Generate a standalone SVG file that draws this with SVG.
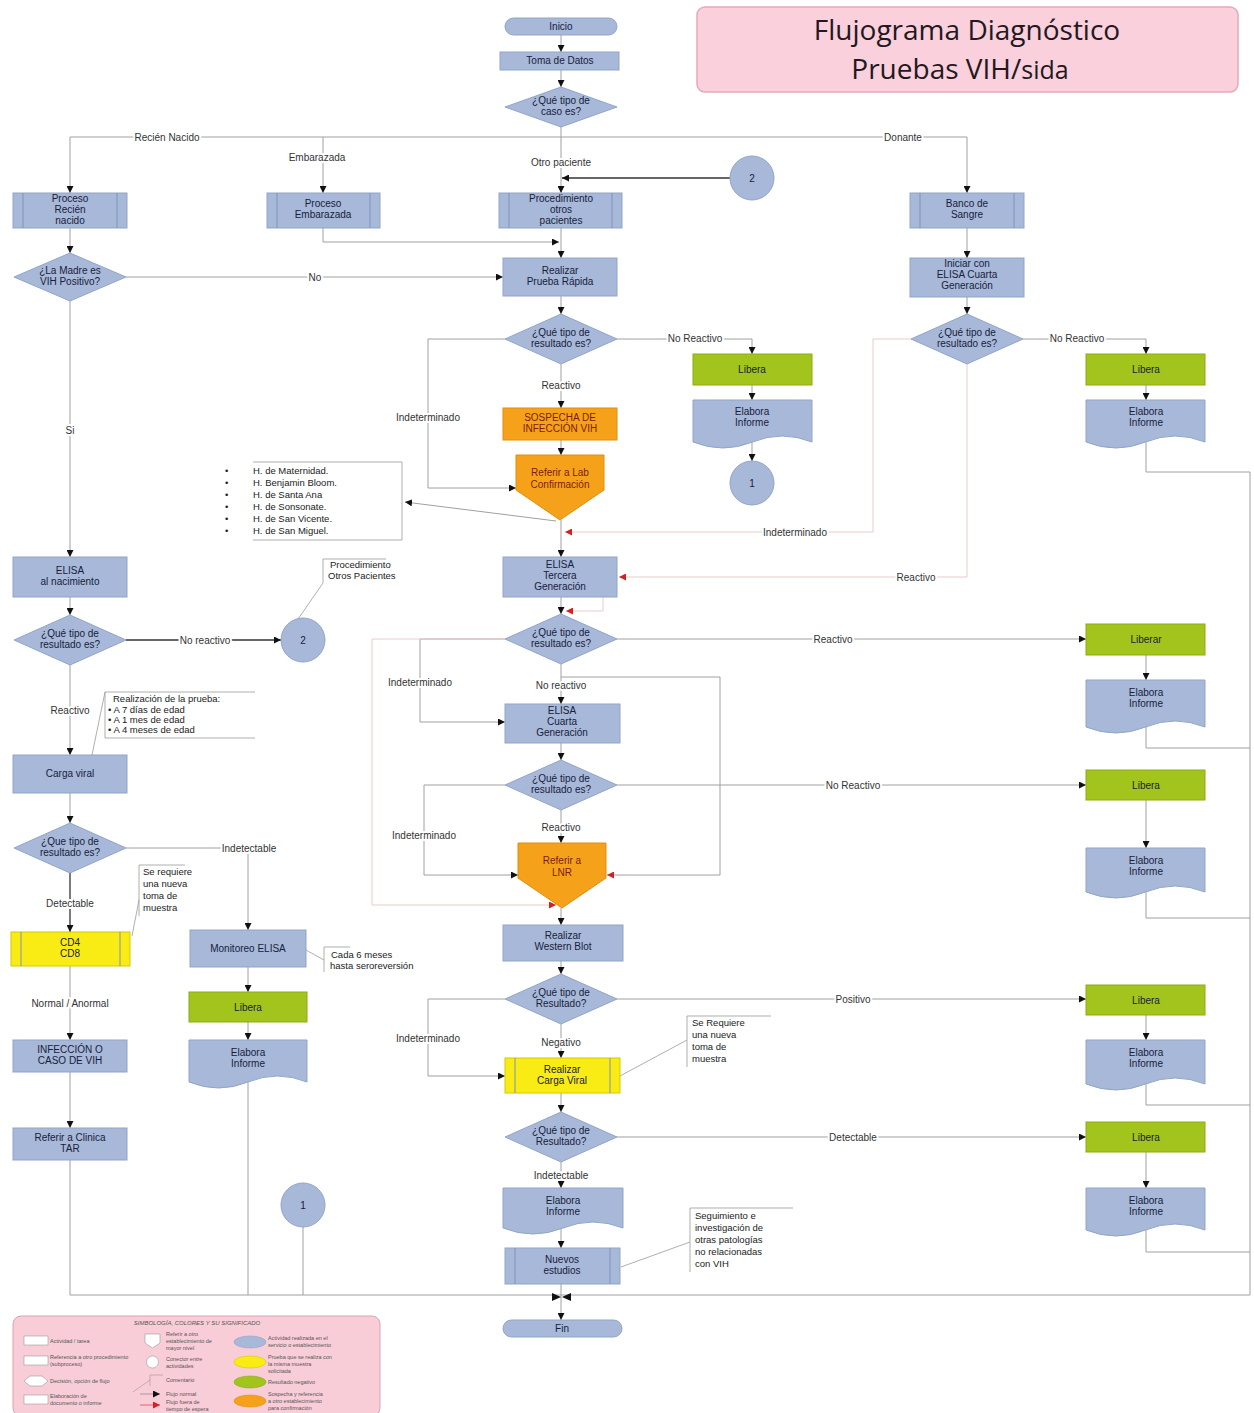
<svg xmlns="http://www.w3.org/2000/svg" width="1254" height="1413" viewBox="0 0 1254 1413">
<style>
text{font-family:"Liberation Sans",Arial,sans-serif}
.n{fill:#a7b8d8;stroke:#91a5c9;stroke-width:1}
.g{fill:#a3c41c;stroke:#8eab10;stroke-width:1}
.o{fill:#f6a11a;stroke:#e08e0e;stroke-width:1}
.y{fill:#f9ec14;stroke:#d8c800;stroke-width:1}
.il{stroke:#7f93b8;stroke-width:1}
.t{font-size:10px;fill:#17213d;text-anchor:middle}
.to{font-size:10px;fill:#7a2200;text-anchor:middle}
.lb{font-size:10px;fill:#333;text-anchor:middle;stroke:#fff;stroke-width:4px;paint-order:stroke;stroke-linejoin:round}
.an{font-size:9.5px;fill:#222}
.c{fill:none;stroke:#a0a0a0;stroke-width:1}
.ck{fill:none;stroke:#333;stroke-width:1.3}
.cr{fill:none;stroke:#ebcaca;stroke-width:1}
.br{fill:none;stroke:#9a9a9a;stroke-width:0.8}
.lg{font-size:5.5px;fill:#555}
.tt{font-family:"Open Sans","Liberation Sans",sans-serif;fill:#231820;text-anchor:middle}
</style>
<defs>
<marker id="a" viewBox="0 0 10 10" refX="10" refY="5" markerWidth="7" markerHeight="7" markerUnits="userSpaceOnUse" orient="auto"><path d="M0,0 L10,5 L0,10 z" fill="#111"/></marker>
<marker id="r" viewBox="0 0 10 10" refX="10" refY="5" markerWidth="7" markerHeight="7" markerUnits="userSpaceOnUse" orient="auto"><path d="M0,0 L10,5 L0,10 z" fill="#d42020"/></marker>
</defs>
<rect width="1254" height="1413" fill="#fff"/>

<g id="title">
<rect x="697" y="7" width="541" height="85" rx="8" fill="#f9d0dc" stroke="#e4a9bb" stroke-width="1.5"/>
<text class="tt" x="967" y="40" font-size="28">Flujograma Diagnóstico</text>
<text class="tt" x="960" y="79" font-size="28">Pruebas VIH/<tspan font-size="25">sida</tspan></text>
</g>

<g id="connectors">
<path class="c" d="M561,35 V52" marker-end="url(#a)"/>
<path class="c" d="M561,70 V87" marker-end="url(#a)"/>
<path class="c" d="M561,127 V137 M70,137 H967"/>
<path class="c" d="M70,137 V193" marker-end="url(#a)"/>
<path class="c" d="M323,137 V193" marker-end="url(#a)"/>
<path class="c" d="M561,137 V193" marker-end="url(#a)"/>
<path class="c" d="M967,137 V193" marker-end="url(#a)"/>
<path class="ck" d="M730,178 H562" marker-end="url(#a)"/>
<path class="c" d="M323,228 V242 H559" marker-end="url(#a)"/>
<path class="c" d="M561,228 V258" marker-end="url(#a)"/>
<path class="c" d="M70,228 V253" marker-end="url(#a)"/>
<path class="c" d="M126,277 H503" marker-end="url(#a)"/>
<path class="c" d="M70,301 V557" marker-end="url(#a)"/>
<path class="c" d="M967,228 V258" marker-end="url(#a)"/>
<path class="c" d="M967,297 V314" marker-end="url(#a)"/>
<path class="c" d="M561,296 V314" marker-end="url(#a)"/>
<path class="c" d="M617,339 H752 V354" marker-end="url(#a)"/>
<path class="c" d="M752,385 V400" marker-end="url(#a)"/>
<path class="c" d="M752,442 V461" marker-end="url(#a)"/>
<path class="c" d="M561,364 V408" marker-end="url(#a)"/>
<path class="c" d="M561,440 V455" marker-end="url(#a)"/>
<path class="c" d="M505,339 H428 V488 H516" marker-end="url(#a)"/>
<path class="c" d="M561,520 V557" marker-end="url(#a)"/>
<path class="c" d="M556,521 L405,502" marker-end="url(#a)"/>
<path class="cr" d="M911,339 H873 V532 H565" marker-end="url(#r)"/>
<path class="cr" d="M967,364 V577 H619" marker-end="url(#r)"/>
<path class="c" d="M1023,339 H1146 V354" marker-end="url(#a)"/>
<path class="c" d="M1146,385 V400" marker-end="url(#a)"/>
<path class="c" d="M1146,442 V472 H1250 V1295"/>
<path class="c" d="M561,597 V614" marker-end="url(#a)"/>
<path class="cr" d="M603,597 V611 H566" marker-end="url(#r)"/>
<path class="c" d="M617,639 H1086" marker-end="url(#a)"/>
<path class="c" d="M1146,655 V680" marker-end="url(#a)"/>
<path class="c" d="M1146,727 V748 H1250"/>
<path class="c" d="M505,639 H420 V722 H505" marker-end="url(#a)"/>
<path class="cr" d="M505,639 H372 V905 H556" marker-end="url(#r)"/>
<path class="c" d="M561,664 V704" marker-end="url(#a)"/>
<path class="c" d="M561,677 H720 V875 H607" marker-end="url(#r)"/>
<path class="c" d="M561,743 V760" marker-end="url(#a)"/>
<path class="c" d="M617,785 H1086" marker-end="url(#a)"/>
<path class="c" d="M1146,800 V848" marker-end="url(#a)"/>
<path class="c" d="M1146,892 V918 H1250"/>
<path class="c" d="M561,810 V843" marker-end="url(#a)"/>
<path class="c" d="M505,785 H424 V875 H518" marker-end="url(#a)"/>
<path class="c" d="M561,908 V925" marker-end="url(#a)"/>
<path class="c" d="M561,961 V974" marker-end="url(#a)"/>
<path class="c" d="M617,999 H1086" marker-end="url(#a)"/>
<path class="c" d="M1146,1015 V1040" marker-end="url(#a)"/>
<path class="c" d="M1146,1084 V1105 H1250"/>
<path class="c" d="M505,999 H428 V1076 H505" marker-end="url(#a)"/>
<path class="c" d="M561,1024 V1058" marker-end="url(#a)"/>
<path class="c" d="M561,1093 V1112" marker-end="url(#a)"/>
<path class="c" d="M617,1137 H1086" marker-end="url(#a)"/>
<path class="c" d="M1146,1152 V1188" marker-end="url(#a)"/>
<path class="c" d="M1146,1230 V1252 H1250"/>
<path class="c" d="M561,1162 V1188" marker-end="url(#a)"/>
<path class="c" d="M561,1228 V1248" marker-end="url(#a)"/>
<path class="c" d="M561,1284 V1320" marker-end="url(#a)"/>
<path class="c" d="M70,1295 H1250"/>
<path d="M552,1293 L561,1297 L552,1301 Z M571,1293 L562,1297 L571,1301 Z" fill="#111"/>
<path class="c" d="M70,597 V615" marker-end="url(#a)"/>
<path class="ck" d="M126,640 H281" marker-end="url(#a)"/>
<path class="c" d="M70,665 V755" marker-end="url(#a)"/>
<path class="c" d="M70,793 V823" marker-end="url(#a)"/>
<path class="c" d="M126,848 H248 V930" marker-end="url(#a)"/>
<path class="ck" d="M70,873 V932" marker-end="url(#a)"/>
<path class="c" d="M70,966 V1040" marker-end="url(#a)"/>
<path class="c" d="M70,1072 V1128" marker-end="url(#a)"/>
<path class="c" d="M70,1160 V1295"/>
<path class="c" d="M248,967 V992" marker-end="url(#a)"/>
<path class="c" d="M248,1022 V1040" marker-end="url(#a)"/>
<path class="c" d="M248,1082 V1295"/>
<path class="c" d="M303,1227 V1295"/>
<text class="lb" x="167" y="141">Recién Nacido</text>
<text class="lb" x="317" y="161">Embarazada</text>
<text class="lb" x="561" y="166">Otro paciente</text>
<text class="lb" x="903" y="141">Donante</text>
<text class="lb" x="315" y="281">No</text>
<text class="lb" x="70" y="434">Si</text>
<text class="lb" x="695" y="342">No Reactivo</text>
<text class="lb" x="561" y="389">Reactivo</text>
<text class="lb" x="428" y="421">Indeterminado</text>
<text class="lb" x="795" y="536">Indeterminado</text>
<text class="lb" x="916" y="581">Reactivo</text>
<text class="lb" x="1077" y="342">No Reactivo</text>
<text class="lb" x="833" y="643">Reactivo</text>
<text class="lb" x="420" y="686">Indeterminado</text>
<text class="lb" x="561" y="689">No reactivo</text>
<text class="lb" x="853" y="789">No Reactivo</text>
<text class="lb" x="561" y="831">Reactivo</text>
<text class="lb" x="424" y="839">Indeterminado</text>
<text class="lb" x="853" y="1003">Positivo</text>
<text class="lb" x="428" y="1042">Indeterminado</text>
<text class="lb" x="561" y="1046">Negativo</text>
<text class="lb" x="853" y="1141">Detectable</text>
<text class="lb" x="561" y="1179">Indetectable</text>
<text class="lb" x="205" y="644">No reactivo</text>
<text class="lb" x="70" y="714">Reactivo</text>
<text class="lb" x="249" y="852">Indetectable</text>
<text class="lb" x="70" y="907">Detectable</text>
<text class="lb" x="70" y="1007">Normal / Anormal</text>
</g>

<g id="inicio"><rect class="n" x="505" y="18" width="112" height="17" rx="8.5"/><text class="t" x="561" y="30">Inicio</text></g>
<g id="toma-datos"><rect class="n" x="500" y="52" width="119" height="18"/><text class="t" x="560" y="64">Toma de Datos</text></g>
<g id="d-caso"><polygon class="n" points="561,87 617,107 561,127 505,107"/><text class="t" x="561" y="104">¿Qué tipo de</text><text class="t" x="561" y="115">caso es?</text></g>
<g id="proc-rn"><rect class="n" x="13" y="193" width="114" height="35"/><path class="il" d="M23,193 V228 M117,193 V228"/><text class="t" x="70" y="202">Proceso</text><text class="t" x="70" y="213">Recién</text><text class="t" x="70" y="224">nacido</text></g>
<g id="proc-emb"><rect class="n" x="267" y="193" width="113" height="35"/><path class="il" d="M277,193 V228 M370,193 V228"/><text class="t" x="323" y="207">Proceso</text><text class="t" x="323" y="218">Embarazada</text></g>
<g id="proc-otros"><rect class="n" x="499" y="193" width="123" height="35"/><path class="il" d="M509,193 V228 M612,193 V228"/><text class="t" x="561" y="202">Procedimiento</text><text class="t" x="561" y="213">otros</text><text class="t" x="561" y="224">pacientes</text></g>
<g id="banco"><rect class="n" x="910" y="193" width="114" height="35"/><path class="il" d="M920,193 V228 M1014,193 V228"/><text class="t" x="967" y="207">Banco de</text><text class="t" x="967" y="218">Sangre</text></g>
<g id="con2a"><circle class="n" cx="752" cy="178" r="22"/><text class="t" x="752" y="182">2</text></g>
<g id="d-madre"><polygon class="n" points="70,253 126,277 70,301 14,277"/><text class="t" x="70" y="274">¿La Madre es</text><text class="t" x="70" y="285">VIH Positivo?</text></g>
<g id="prueba-rapida"><rect class="n" x="503" y="258" width="114" height="38"/><text class="t" x="560" y="274">Realizar</text><text class="t" x="560" y="285">Prueba Rápida</text></g>
<g id="iniciar-elisa"><rect class="n" x="910" y="258" width="114" height="39"/><text class="t" x="967" y="267">Iniciar con</text><text class="t" x="967" y="278">ELISA Cuarta</text><text class="t" x="967" y="289">Generación</text></g>
<g id="d-rapida"><polygon class="n" points="561,314 617,339 561,364 505,339"/><text class="t" x="561" y="336">¿Qué tipo de</text><text class="t" x="561" y="347">resultado es?</text></g>
<g id="d-banco"><polygon class="n" points="967,314 1023,339 967,364 911,339"/><text class="t" x="967" y="336">¿Qué tipo de</text><text class="t" x="967" y="347">resultado es?</text></g>
<g id="libera1"><rect class="g" x="693" y="354" width="119" height="31"/><text class="t" x="752" y="373">Libera</text></g>
<g id="informe1"><path class="n" d="M693,400 H812 V442 Q782,430 752.5,442 T693,442 Z"/><text class="t" x="752" y="415">Elabora</text><text class="t" x="752" y="426">Informe</text></g>
<g id="con1a"><circle class="n" cx="752" cy="483" r="22"/><text class="t" x="752" y="487">1</text></g>
<g id="libera2"><rect class="g" x="1086" y="354" width="119" height="31"/><text class="t" x="1146" y="373">Libera</text></g>
<g id="informe2"><path class="n" d="M1086,400 H1205 V442 Q1175,430 1145.5,442 T1086,442 Z"/><text class="t" x="1146" y="415">Elabora</text><text class="t" x="1146" y="426">Informe</text></g>
<g id="sospecha"><rect class="o" x="503" y="408" width="114" height="32"/><text class="to" x="560" y="421">SOSPECHA DE</text><text class="to" x="560" y="432">INFECCIÓN VIH</text></g>
<g id="referir-lab"><path class="o" d="M516,455 H604 V490 L560,520 L516,490 Z"/><text class="to" x="560" y="476">Referir a  Lab</text><text class="to" x="560" y="488">Confirmación</text></g>
<g id="hospitales">
<path class="br" d="M253,462 H402 V540 H253"/>
<text class="an" x="225" y="474">•</text><text class="an" x="253" y="474">H. de Maternidad.</text>
<text class="an" x="225" y="486">•</text><text class="an" x="253" y="486">H. Benjamin Bloom.</text>
<text class="an" x="225" y="498">•</text><text class="an" x="253" y="498">H. de Santa Ana</text>
<text class="an" x="225" y="510">•</text><text class="an" x="253" y="510">H. de Sonsonate.</text>
<text class="an" x="225" y="522">•</text><text class="an" x="253" y="522">H. de San Vicente.</text>
<text class="an" x="225" y="534">•</text><text class="an" x="253" y="534">H. de San Miguel.</text>
</g>
<g id="elisa3"><rect class="n" x="503" y="557" width="114" height="40"/><text class="t" x="560" y="568">ELISA</text><text class="t" x="560" y="579">Tercera</text><text class="t" x="560" y="590">Generación</text></g>
<g id="elisa-nac"><rect class="n" x="13" y="557" width="114" height="40"/><text class="t" x="70" y="574">ELISA</text><text class="t" x="70" y="585">al nacimiento</text></g>
<g id="nota-otros"><path class="br" d="M386,559 H323 V583 M323,583 L296,622"/><text class="an" x="330" y="568" font-size="8.5">Procedimiento</text><text class="an" x="328" y="579" font-size="8.5">Otros Pacientes</text></g>
<g id="d-nac"><polygon class="n" points="70,615 126,640 70,665 14,640"/><text class="t" x="70" y="637">¿Qué tipo de</text><text class="t" x="70" y="648">resultado es?</text></g>
<g id="con2b"><circle class="n" cx="303" cy="640" r="22"/><text class="t" x="303" y="644">2</text></g>
<g id="d-elisa3"><polygon class="n" points="561,614 617,639 561,664 505,639"/><text class="t" x="561" y="636">¿Qué tipo de</text><text class="t" x="561" y="647">resultado es?</text></g>
<g id="liberar"><rect class="g" x="1086" y="624" width="119" height="31"/><text class="t" x="1146" y="643">Liberar</text></g>
<g id="informe3"><path class="n" d="M1086,680 H1205 V727 Q1175,715 1145.5,727 T1086,727 Z"/><text class="t" x="1146" y="696">Elabora</text><text class="t" x="1146" y="707">Informe</text></g>
<g id="nota-prueba"><path class="br" d="M255,692 H105 V738 H255 M105,692 L92,755"/><text class="an" x="113" y="702" font-size="8.5">Realización de la prueba:</text><text class="an" x="108" y="713" font-size="8.5">• A 7 días de edad</text><text class="an" x="108" y="723" font-size="8.5">• A 1 mes de edad</text><text class="an" x="108" y="733" font-size="8.5">• A 4 meses de edad</text></g>
<g id="elisa4"><rect class="n" x="505" y="704" width="115" height="39"/><text class="t" x="562" y="714">ELISA</text><text class="t" x="562" y="725">Cuarta</text><text class="t" x="562" y="736">Generación</text></g>
<g id="carga-viral-rn"><rect class="n" x="13" y="755" width="114" height="38"/><text class="t" x="70" y="777">Carga viral</text></g>
<g id="d-elisa4"><polygon class="n" points="561,760 617,785 561,810 505,785"/><text class="t" x="561" y="782">¿Qué tipo de</text><text class="t" x="561" y="793">resultado es?</text></g>
<g id="libera3"><rect class="g" x="1086" y="770" width="119" height="30"/><text class="t" x="1146" y="789">Libera</text></g>
<g id="informe4"><path class="n" d="M1086,848 H1205 V892 Q1175,880 1145.5,892 T1086,892 Z"/><text class="t" x="1146" y="864">Elabora</text><text class="t" x="1146" y="875">Informe</text></g>
<g id="d-cv"><polygon class="n" points="70,823 126,848 70,873 14,848"/><text class="t" x="70" y="845">¿Que tipo de</text><text class="t" x="70" y="856">resultado es?</text></g>
<g id="referir-lnr"><path class="o" d="M518,843 H606 V878 L562,908 L518,878 Z"/><text class="to" x="562" y="864">Referir a</text><text class="to" x="562" y="876">LNR</text></g>
<g id="nota-muestra1"><path class="br" d="M185,865 H139 V916 M139,900 L132,936"/><text class="an" x="143" y="875" font-size="8.5">Se requiere</text><text class="an" x="143" y="887" font-size="8.5">una nueva</text><text class="an" x="143" y="899" font-size="8.5">toma de</text><text class="an" x="143" y="911" font-size="8.5">muestra</text></g>
<g id="cd4"><rect class="y" x="11" y="932" width="119" height="34"/><path class="il" d="M21,932 V966 M120,932 V966" stroke="#c9b800"/><text class="t" x="70" y="946">CD4</text><text class="t" x="70" y="957">CD8</text></g>
<g id="monitoreo"><rect class="n" x="190" y="930" width="116" height="37"/><text class="t" x="248" y="952">Monitoreo ELISA</text></g>
<g id="nota-6meses"><path class="br" d="M350,947 H324 V972 M306,950 L324,960"/><text class="an" x="331" y="958" font-size="8.5">Cada 6 meses</text><text class="an" x="330" y="969" font-size="8.5">hasta seroreversión</text></g>
<g id="western"><rect class="n" x="503" y="925" width="120" height="36"/><text class="t" x="563" y="939">Realizar</text><text class="t" x="563" y="950">Western Blot</text></g>
<g id="d-western"><polygon class="n" points="561,974 617,999 561,1024 505,999"/><text class="t" x="561" y="996">¿Qué tipo de</text><text class="t" x="561" y="1007">Resultado?</text></g>
<g id="libera4"><rect class="g" x="1086" y="985" width="119" height="30"/><text class="t" x="1146" y="1004">Libera</text></g>
<g id="libera-left"><rect class="g" x="189" y="992" width="118" height="30"/><text class="t" x="248" y="1011">Libera</text></g>
<g id="nota-muestra2"><path class="br" d="M771,1016 H687 V1067 M687,1040 L620,1076"/><text class="an" x="692" y="1026" font-size="8.5">Se Requiere</text><text class="an" x="692" y="1038" font-size="8.5">una nueva</text><text class="an" x="692" y="1050" font-size="8.5">toma de</text><text class="an" x="692" y="1062" font-size="8.5">muestra</text></g>
<g id="infeccion"><rect class="n" x="13" y="1040" width="114" height="32"/><text class="t" x="70" y="1053">INFECCIÓN O</text><text class="t" x="70" y="1064">CASO DE VIH</text></g>
<g id="informe-left"><path class="n" d="M189,1040 H307 V1082 Q277.5,1070 248,1082 T189,1082 Z"/><text class="t" x="248" y="1056">Elabora</text><text class="t" x="248" y="1067">Informe</text></g>
<g id="informe5"><path class="n" d="M1086,1040 H1205 V1084 Q1175,1072 1145.5,1084 T1086,1084 Z"/><text class="t" x="1146" y="1056">Elabora</text><text class="t" x="1146" y="1067">Informe</text></g>
<g id="carga-viral"><rect class="y" x="505" y="1058" width="115" height="35"/><path class="il" d="M515,1058 V1093 M610,1058 V1093" stroke="#c9b800"/><text class="t" x="562" y="1073">Realizar</text><text class="t" x="562" y="1084">Carga Viral</text></g>
<g id="d-carga"><polygon class="n" points="561,1112 617,1137 561,1162 505,1137"/><text class="t" x="561" y="1134">¿Qué tipo de</text><text class="t" x="561" y="1145">Resultado?</text></g>
<g id="libera5"><rect class="g" x="1086" y="1122" width="119" height="30"/><text class="t" x="1146" y="1141">Libera</text></g>
<g id="tar"><rect class="n" x="13" y="1128" width="114" height="32"/><text class="t" x="70" y="1141">Referir a Clinica</text><text class="t" x="70" y="1152">TAR</text></g>
<g id="informe6"><path class="n" d="M1086,1188 H1205 V1230 Q1175,1218 1145.5,1230 T1086,1230 Z"/><text class="t" x="1146" y="1204">Elabora</text><text class="t" x="1146" y="1215">Informe</text></g>
<g id="informe-centro"><path class="n" d="M503,1188 H623 V1228 Q593,1216 563,1228 T503,1228 Z"/><text class="t" x="563" y="1204">Elabora</text><text class="t" x="563" y="1215">Informe</text></g>
<g id="con1b"><circle class="n" cx="303" cy="1205" r="22"/><text class="t" x="303" y="1209">1</text></g>
<g id="nota-seguimiento"><path class="br" d="M793,1208 H690 V1272 M690,1242 L621,1267"/><text class="an" x="695" y="1219" font-size="8.5">Seguimiento e</text><text class="an" x="695" y="1231" font-size="8.5">investigación de</text><text class="an" x="695" y="1243" font-size="8.5">otras patologías</text><text class="an" x="695" y="1255" font-size="8.5">no relacionadas</text><text class="an" x="695" y="1267" font-size="8.5">con VIH</text></g>
<g id="nuevos"><rect class="n" x="505" y="1248" width="115" height="36"/><path class="il" d="M515,1248 V1284 M610,1248 V1284"/><text class="t" x="562" y="1263">Nuevos</text><text class="t" x="562" y="1274">estudios</text></g>
<g id="fin"><rect class="n" x="503" y="1320" width="119" height="17" rx="8.5"/><text class="t" x="562" y="1332">Fin</text></g>

<g id="leyenda">
<rect x="13" y="1316" width="367" height="100" rx="8" fill="#f8cdd8" stroke="#d9a3b3" stroke-width="1"/>
<text x="197" y="1325" font-size="6" font-style="italic" fill="#555" text-anchor="middle">SIMBOLOGÍA, COLORES Y SU SIGNIFICADO</text>
<rect x="24" y="1336" width="24" height="9" fill="#fff" stroke="#999" stroke-width="0.6"/>
<text class="lg" x="50" y="1343">Actividad / tarea</text>
<rect x="24" y="1356" width="24" height="9" fill="#fff" stroke="#999" stroke-width="0.6"/>
<text class="lg" x="50" y="1359">Referencia a otro procedimiento</text><text class="lg" x="50" y="1366">(subproceso)</text>
<polygon points="24,1381 30,1376 42,1376 48,1381 42,1386 30,1386" fill="#fff" stroke="#999" stroke-width="0.6"/>
<text class="lg" x="50" y="1383">Decisión, opción de flujo</text>
<rect x="24" y="1395" width="24" height="9" fill="#fff" stroke="#999" stroke-width="0.6"/>
<text class="lg" x="50" y="1398">Elaboración de</text><text class="lg" x="50" y="1405">documento o informe</text>
<path d="M145,1334 H160 V1343 L152.5,1348 L145,1343 Z" fill="#fff" stroke="#999" stroke-width="0.6"/>
<text class="lg" x="166" y="1336">Referir a otro</text><text class="lg" x="166" y="1343">establecimiento de</text><text class="lg" x="166" y="1350">mayor nivel</text>
<circle cx="152.5" cy="1362" r="6" fill="#fff" stroke="#999" stroke-width="0.6"/>
<text class="lg" x="166" y="1361">Conector entre</text><text class="lg" x="166" y="1368">actividades</text>
<path d="M163,1375 H150 V1386 M150,1380 L133,1392" fill="none" stroke="#999" stroke-width="0.6"/>
<text class="lg" x="166" y="1382">Comentario</text>
<path d="M140,1394 H160" stroke="#777" stroke-width="0.6" marker-end="url(#a)"/>
<text class="lg" x="166" y="1396">Flujo normal</text>
<path d="M140,1405 H160" stroke="#d42020" stroke-width="0.6" marker-end="url(#r)"/>
<text class="lg" x="166" y="1404">Flujo fuera de</text><text class="lg" x="166" y="1411">tiempo de espera</text>
<ellipse cx="250" cy="1342" rx="16" ry="6" fill="#a7b8d8" stroke="#91a5c9" stroke-width="0.6"/>
<text class="lg" x="268" y="1340">Actividad realizada en el</text><text class="lg" x="268" y="1347">servicio o establecimiento</text>
<ellipse cx="250" cy="1362" rx="16" ry="6" fill="#f9ec14" stroke="#d8c800" stroke-width="0.6"/>
<text class="lg" x="268" y="1359">Prueba que se realiza con</text><text class="lg" x="268" y="1366">la misma muestra</text><text class="lg" x="268" y="1373">solicitada</text>
<ellipse cx="250" cy="1382" rx="16" ry="6" fill="#a3c41c" stroke="#8eab10" stroke-width="0.6"/>
<text class="lg" x="268" y="1384">Resultado negativo</text>
<ellipse cx="250" cy="1401" rx="16" ry="6" fill="#f6a11a" stroke="#e08e0e" stroke-width="0.6"/>
<text class="lg" x="268" y="1396">Sospecha y referencia</text><text class="lg" x="268" y="1403">a otro establecimiento</text><text class="lg" x="268" y="1410">para confirmación</text>
</g>
</svg>
